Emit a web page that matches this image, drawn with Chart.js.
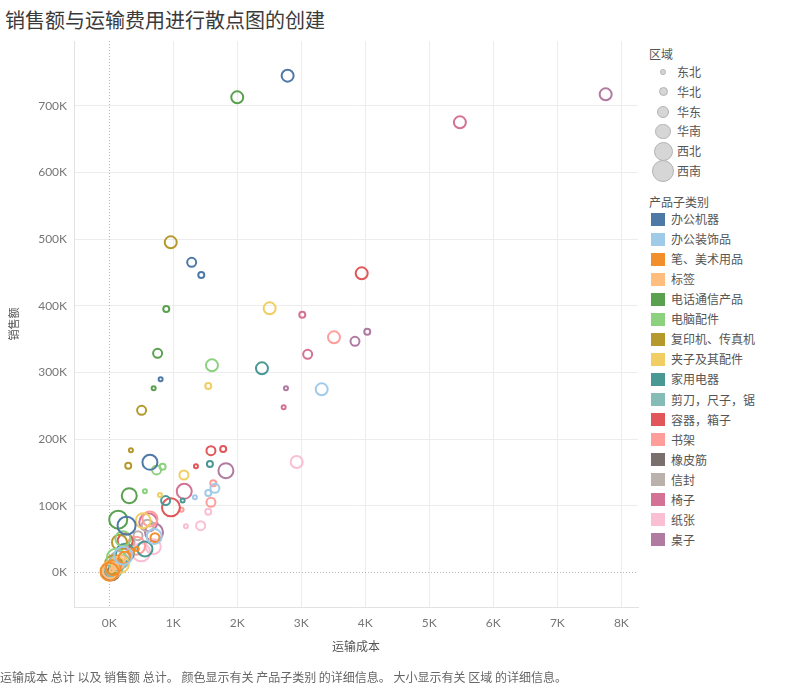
<!DOCTYPE html>
<html><head><meta charset="utf-8">
<script src="https://cdn.jsdelivr.net/npm/chart.js@4.4.0/dist/chart.umd.min.js"></script>
<style>
body{margin:0;background:#fff;width:788px;height:687px;overflow:hidden;position:relative;font-family:"Noto Sans CJK SC","Noto Sans",sans-serif;}
#title{position:absolute;left:5px;top:6px;font-size:20px;color:#3a3a3a;line-height:28px;white-space:nowrap;}
#wrap{position:absolute;left:0;top:0;width:645px;height:687px;}
.lt{position:absolute;left:649px;font-size:12px;color:#555;line-height:16px;white-space:nowrap;}
.row{position:absolute;font-size:12px;color:#555;line-height:16px;white-space:nowrap;}
.sw{position:absolute;left:651px;width:14px;height:13px;}
.cir{position:absolute;border-radius:50%;background:#d6d6d6;border:1.5px solid #b3b3b3;box-sizing:border-box;}
#foot{position:absolute;left:0;top:669px;font-size:12px;color:#666;line-height:16px;white-space:pre;}
</style></head>
<body>
<div id="title">销售额与运输费用进行散点图的创建</div>
<div id="wrap"><canvas id="c" width="645" height="687"></canvas></div>
<div id="legend"></div>
<div id="foot">运输成本 总计 以及 销售额 总计。 颜色显示有关 产品子类别 的详细信息。 大小显示有关 区域 的详细信息。</div>
<script>
// ---- data ----
const regions = ['东北','华北','华东','华南','西北','西南'];
const subCategories = ['办公机器','办公装饰品','笔、美术用品','标签','电话通信产品','电脑配件','复印机、传真机','夹子及其配件','家用电器','剪刀，尺子，锯','容器，箱子','书架','橡皮筋','信封','椅子','纸张','桌子'];
const categoryColors = ['#4e79a7','#a0cbe8','#f28e2b','#ffbe7d','#59a14f','#8cd17d','#b6992d','#f1ce63','#499894','#86bcb6','#e15759','#ff9d9a','#79706e','#bab0ac','#d37295','#fabfd2','#b07aa1'];
// shipping cost per sub-category, in region order 东北,华北,华东,华南,西北,西南
const shippingCost = [
  [803,1438,1288,2787,636,271],      // 办公机器
  [1339,1547,1651,3319,703,219],     // 办公装饰品
  [430,340,715,240,60,5],            // 笔、美术用品
  [40,90,180,140,20,30],             // 标签
  [694,891,756,2000,313,141],        // 电话通信产品
  [558,834,740,1605,214,105],        // 电脑配件
  [339,297,506,961,160,70],          // 复印机、传真机
  [792,1547,1167,2506,531,167],      // 夹子及其配件
  [1147,1573,881,2386,558,246],      // 家用电器
  [60,90,130,210,110,70],            // 剪刀，尺子，锯
  [1355,1780,1589,3944,250,964],     // 容器，箱子
  [1131,1625,1589,3511,636,420],     // 书架
  [20,30,60,80,40,30],               // 橡皮筋
  [300,350,450,600,200,150],         // 信封
  [2725,3016,3100,5478,1172,610],    // 椅子
  [1198,1547,1428,2928,688,500],     // 纸张
  [2761,4031,3839,7755,1823,700]     // 桌子
];
// sales per sub-category, same order
const salesAmount = [
  [289500,446000,465000,745000,165000,70000],
  [112500,119000,126000,274500,53600,25000],
  [35000,31000,52000,22000,7000,1000],
  [3000,9000,19000,14000,2000,4000],
  [276000,395000,328500,712500,115000,79000],
  [121500,158500,153600,310500,50500,22000],
  [183000,160000,243000,495000,45000,12000],
  [116000,279600,146000,396000,77500,12500],
  [107600,162600,107600,306000,35000,29500],
  [4000,7000,11000,17000,12000,6000],
  [159000,185000,182500,448500,47000,97500],
  [94000,133500,105000,352500,80000,40000],
  [1000,1500,3000,4000,2000,1500],
  [38000,45000,55000,70000,25000,18000],
  [247500,386500,327000,675000,121500,75000],
  [69000,91000,70000,165600,38500,30000],
  [276000,361000,346500,717000,152500,60000]
];
const xTicks = [0,1000,2000,3000,4000,5000,6000,7000,8000];
const yTicks = [0,100000,200000,300000,400000,500000,600000,700000];

// ---- styles ----
const regionDiameter = [6, 8, 11, 14, 17, 20];

const datasets = subCategories.map((name, i) => ({
  label: name,
  data: regions.map((reg, j) => ({x: shippingCost[i][j], y: salesAmount[i][j], r: (regionDiameter[j] - 2) / 2})),
  borderColor: categoryColors[i],
  backgroundColor: 'rgba(255,255,255,0)',
  borderWidth: 2,
  hoverBorderWidth: 2
}));

const zeroLines = {
  id: 'zeroLines',
  beforeDatasetsDraw(chart) {
    const {ctx, chartArea: a, scales: {x, y}} = chart;
    ctx.save();
    ctx.strokeStyle = '#b5b5b5'; ctx.lineWidth = 1; ctx.setLineDash([1, 2]);
    const x0 = Math.round(x.getPixelForValue(0)) + 0.5;
    ctx.beginPath(); ctx.moveTo(x0, a.top); ctx.lineTo(x0, a.bottom); ctx.stroke();
    const y0 = Math.round(y.getPixelForValue(0)) + 0.5;
    ctx.beginPath(); ctx.moveTo(a.left, y0); ctx.lineTo(a.right, y0); ctx.stroke();
    ctx.restore();
  }
};

const tickFont = {family: 'Lato', size: 12};
new Chart(document.getElementById('c'), {
  type: 'bubble',
  data: {datasets},
  options: {
    responsive: false, animation: false,
    layout: {autoPadding: false, padding: {top: 41, right: 7, bottom: 24, left: 0}},
    plugins: {legend: {display: false}, tooltip: {enabled: false}},
    events: [],
    scales: {
      x: {
        type: 'linear', min: -550, max: 8260,
        afterBuildTicks(s) { s.ticks = xTicks.map(v => ({value: v})); },
        afterFit(s) { s.height = 56; s.paddingLeft = 0; s.paddingRight = 0; },
        grid: {color: c => (c.tick && c.tick.value === 0) ? 'rgba(0,0,0,0)' : '#ececec', drawTicks: false},
        border: {color: '#e2e2e2'},
        ticks: {padding: 9, color: '#777', font: tickFont, maxRotation: 0, callback: v => (v / 1000) + 'K'},
        title: {display: true, text: '运输成本', color: '#555', font: {family: 'Noto Sans CJK SC', size: 12}, padding: {top: 0, bottom: 9}}
      },
      y: {
        type: 'linear', min: -52000, max: 797000,
        afterBuildTicks(s) { s.ticks = yTicks.map(v => ({value: v})); },
        afterFit(s) { s.width = 74; s.paddingTop = 0; s.paddingBottom = 0; },
        grid: {color: c => (c.tick && c.tick.value === 0) ? 'rgba(0,0,0,0)' : '#ececec', drawTicks: false},
        border: {color: '#e2e2e2'},
        ticks: {padding: 7, color: '#777', font: tickFont, callback: v => (v / 1000) + 'K'},
        title: {display: true, text: '销售额', color: '#555', font: {family: 'Noto Sans CJK SC', size: 11}, padding: {top: 7, bottom: 0}}
      }
    }
  },
  plugins: [zeroLines]
});

// ---- legends (HTML) ----
const lg = document.getElementById('legend');
function add(html) { lg.insertAdjacentHTML('beforeend', html); }
add('<div class="lt" style="top:46px">区域</div>');
const legendCircle = [6.5, 9, 12, 15.5, 19, 22];
regions.forEach((r, j) => {
  const cy = 72 + j * 19.8, d = legendCircle[j];
  add(`<div class="cir" style="left:${663 - d / 2}px;top:${cy - d / 2}px;width:${d}px;height:${d}px"></div>`);
  add(`<div class="row" style="left:677px;top:${cy - 8}px">${r}</div>`);
});
add('<div class="lt" style="top:194px">产品子类别</div>');
subCategories.forEach((n, i) => {
  const cy = 219 + i * 20.06;
  add(`<div class="sw" style="top:${cy - 6.5}px;background:${categoryColors[i]}"></div>`);
  add(`<div class="row" style="left:671px;top:${cy - 8}px">${n}</div>`);
});
</script>
</body></html>
